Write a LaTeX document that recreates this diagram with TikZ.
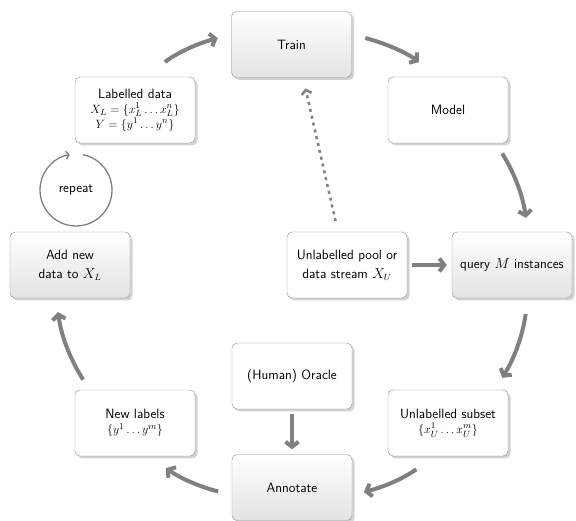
\documentclass[tikz,border=0pt]{standalone}
\usepackage{amsmath}
\usetikzlibrary{positioning}
\usetikzlibrary{shadows,arrows.meta}

\newcommand{\msz}{\fontsize{12.5}{14}\selectfont}

\begin{document}
\begin{tikzpicture}[x=1pt,y=1pt,
  font=\sffamily\fontsize{13.5}{19}\selectfont,
  box/.style={draw=gray!90,rounded corners=5pt,minimum width=120pt,minimum height=66pt,align=center,fill=white,
    drop shadow={shadow xshift=2.5pt,shadow yshift=-2.5pt,fill=gray!70}},
  shadebox/.style={box,top color=white,bottom color=gray!22},
  cyc/.style={draw=gray,line width=4pt,-{Straight Barb[length=5pt,width=13pt]}},
  flow/.style={draw=gray,line width=4pt,-{Straight Barb[length=5pt,width=13pt]},shorten <=5pt,shorten >=5pt},
  dotflow/.style={draw=gray,line width=2.5pt,dash pattern=on 3pt off 4pt,-{Straight Barb[length=4pt,width=10pt]},shorten <=11pt,shorten >=11pt},
  loopline/.style={draw=gray,line width=1.3pt,-{Straight Barb[length=3pt,width=8pt]}}]
 \useasboundingbox (0,0) rectangle (576,521);

 \node[shadebox] (train) at (291.5,476.5) {Train};
 \node[box] (model) at (448,411) {Model};
 \node[box] (ld) at (135,411) {Labelled data\\[-4pt]{\msz$X_L=\{x_L^1\dots x_L^n\}$}\\[-4pt]{\msz$Y=\{y^1\dots y^n\}$}};
 \node[box] (pool) at (347,256) {Unlabelled pool or\\data stream $X_U$};
 \node[shadebox] (query) at (512,256) {query $M$ instances};
 \node[shadebox] (add) at (70,256) {Add new\\data to $X_L$};
 \node (rep) at (76,331) {repeat};
 \node[box] (newl) at (135,98) {New labels\\[-4pt]{\msz$\{y^1\dots y^m\}$}};
 \node[box] (oracle) at (292,145) {(Human) Oracle};
 \node[shadebox] (annot) at (292,33.5) {Annotate};
 \node[box] (subset) at (448,98) {Unlabelled subset\\[-4pt]{\msz$\{x_U^1\dots x_U^m\}$}};

 % cycle
 \draw[cyc,shorten <=24pt,shorten >=14pt] ([xshift=11pt]ld.north) to[bend left=11.5] ([yshift=10pt]train.west);
 \draw[cyc,shorten <=14pt,shorten >=24pt] ([yshift=10pt]train.east) to[bend left=11.5] ([xshift=-10pt]model.north);
 \draw[cyc,shorten <=12pt,shorten >=14pt] ([xshift=48pt]model.south) to[bend left=11.5] ([xshift=16pt]query.north);
 \draw[cyc,shorten <=16pt,shorten >=14pt] ([xshift=16pt]query.south) to[bend left=11.5] ([xshift=47pt]subset.north);
 \draw[cyc,shorten <=22pt,shorten >=12pt] ([xshift=-14pt]subset.south) to[bend left=11] ([yshift=-7.5pt]annot.east);
 \draw[cyc,shorten <=14pt,shorten >=20pt] ([yshift=-7.5pt]annot.west) to[bend left=11] ([xshift=15pt]newl.south);
 \draw[cyc,shorten <=12pt,shorten >=14pt] ([xshift=-45.5pt]newl.north) to[bend left=12] ([xshift=-14pt]add.south);
 \draw[loopline] ([shift={(79:36pt)}]rep.center) arc[start angle=79,end angle=-260,radius=36pt];

 \draw[flow] (pool) -- (query);
 \draw[flow] (oracle) -- (annot);
 \draw[dotflow] ([xshift=-9pt]pool.north) -- ([xshift=11.5pt]train.south);
\end{tikzpicture}
\end{document}
